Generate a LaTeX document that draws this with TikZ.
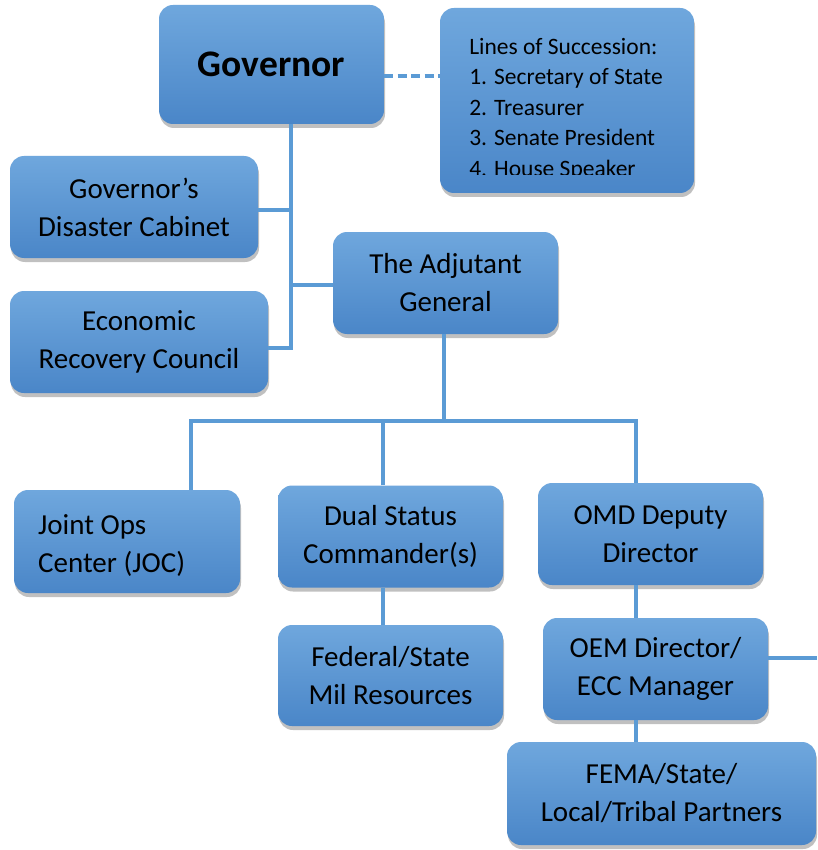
\documentclass[tikz,border=0pt]{standalone}
\usepackage{fontspec}
\setmainfont{Carlito}
\usepackage{tikz}
\usetikzlibrary{shadows}

\definecolor{boxtop}{HTML}{6FA7DD}
\definecolor{boxbot}{HTML}{4A86C8}
\definecolor{linkc}{HTML}{5B9BD5}

\tikzset{
  box/.style={rounded corners=14pt, top color=boxtop, bottom color=boxbot,
    drop shadow={shadow xshift=1pt, shadow yshift=-4pt, opacity=.35, fill=black!70},
    minimum width=225pt, minimum height=102pt, align=center, inner sep=0pt,
    font=\fontsize{29}{38}\selectfont},
  link/.style={linkc, line width=3.2pt}
}

\begin{document}
\begin{tikzpicture}[x=1pt,y=-1pt]
\fill[white] (0,0) rectangle (817,850);
\useasboundingbox (0,0) rectangle (817,850);

\node[box, minimum height=119pt, font=\fontsize{37.5}{44}\selectfont\bfseries] (gov) at (271.5,64.5) {Governor};
\node[box, minimum width=254pt, minimum height=185pt] (succ) at (567,100.5) {};
\begin{scope}
\clip (succ.north west) rectangle (succ.east |- 0,175);
\node[align=left, inner sep=0pt, font=\fontsize{23.5}{30.5}\selectfont] (succtxt) at (566,109)
  {Lines of Succession:\\1. Secretary of State\\2. Treasurer\\3. Senate President\\4. House Speaker};
\end{scope}
\node[box, minimum width=248pt] (cab) at (134,207) {Governor’s\\Disaster Cabinet};
\node[box, minimum width=258pt] (erc) at (139,342) {Economic\\Recovery Council};
\node[box] (tag) at (445.5,283) {The Adjutant\\General};
\node[box, minimum width=226pt, minimum height=103pt] (joc) at (127,541.5) {};
\node[align=left, inner sep=0pt, font=\fontsize{29}{38}\selectfont, anchor=west] (joctxt) at (38,546) {Joint Ops\\Center (JOC)};
\node[box] (dsc) at (390.5,536.5) {Dual Status\\Commander(s)};
\node[box] (omd) at (650.5,534) {OMD Deputy\\Director};
\node[box, minimum height=101pt] (fsm) at (390.5,675.5) {Federal/State\\Mil Resources};
\node[box] (oem) at (655.5,669) {OEM Director/\\ECC Manager};
\node[box, minimum width=309pt, minimum height=103pt] (fema) at (661.5,793.5) {FEMA/State/\\Local/Tribal Partners};

\draw[link, line width=3.6pt, dash pattern=on 9pt off 4.5pt] (gov.east |- 0,76) -- (succ.west |- 0,76);
\draw[link] (gov.south -| 291,0) -- (291,348) -- (erc.east |- 0,348);
\draw[link] (cab.east |- 0,210) -- (291,210);
\draw[link] (tag.west |- 0,285) -- (291,285);
\draw[link] (tag.south -| 444,0) -- (444,421);
\draw[link] (joc.north -| 191,0) -- (191,421) -- (636,421) -- (omd.north -| 636,0);
\draw[link] (dsc.north -| 383,0) -- (383,421);
\draw[link] (dsc.south -| 383,0) -- (fsm.north -| 383,0);
\draw[link] (omd.south -| 636,0) -- (oem.north -| 636,0);
\draw[link] (oem.south -| 636,0) -- (fema.north -| 636,0);
\coordinate (edge) at (817,658);
\draw[link] (oem.east |- edge) -- (edge);
\end{tikzpicture}
\end{document}
